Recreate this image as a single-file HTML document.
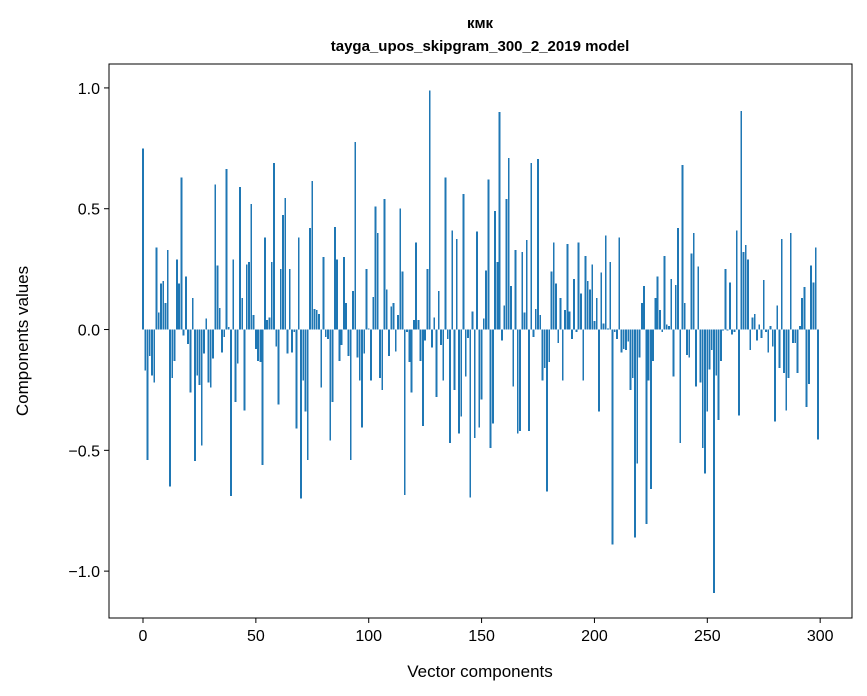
<!DOCTYPE html>
<html><head><meta charset="utf-8"><style>
html,body{margin:0;padding:0;background:#fff;}
svg{display:block;font-family:"Liberation Sans","DejaVu Sans",sans-serif;}
</style></head><body>
<svg id="chart" width="867" height="696" viewBox="0 0 867 696" xmlns="http://www.w3.org/2000/svg">
<rect x="0" y="0" width="867" height="696" fill="#fff"/>
<text x="480" y="28" text-anchor="middle" font-size="15" font-weight="bold">кмк</text>
<text x="480" y="51" text-anchor="middle" font-size="15" font-weight="bold">tayga_upos_skipgram_300_2_2019 model</text>
<g id="bars"></g>
<g id="axes"></g>
<text x="480" y="677" text-anchor="middle" font-size="17">Vector components</text>
<text x="28" y="341" text-anchor="middle" font-size="17" transform="rotate(-90 28 341)">Components values</text>
</svg>
<script>
const values = [0.75,-0.17,-0.54,-0.11,-0.19,-0.22,0.34,0.07,0.19,0.20,
0.11,0.33,-0.65,-0.20,-0.13,0.29,0.19,0.63,-0.025,0.22,
-0.06,-0.26,0.13,-0.545,-0.19,-0.23,-0.48,-0.10,0.045,-0.22,
-0.24,-0.12,0.60,0.265,0.09,-0.095,-0.03,0.665,0.01,-0.69,
0.29,-0.30,-0.14,0.59,0.13,-0.335,0.27,0.28,0.52,0.06,
-0.08,-0.13,-0.135,-0.56,0.38,0.04,0.05,0.28,0.69,-0.07,
-0.31,0.25,0.475,0.545,-0.10,0.25,-0.095,-0.01,-0.41,0.38,
-0.70,-0.21,-0.34,-0.54,0.42,0.615,0.085,0.08,0.065,-0.24,
0.30,-0.03,-0.04,-0.46,-0.30,0.425,0.29,-0.13,-0.065,0.30,
0.11,-0.11,-0.54,0.16,0.777,-0.115,-0.21,-0.405,-0.10,0.25,
0.005,-0.21,0.135,0.51,0.40,-0.20,-0.25,0.54,0.165,-0.11,
0.095,0.11,-0.09,0.06,0.50,0.24,-0.685,-0.01,-0.135,-0.26,
0.04,0.36,0.04,-0.13,-0.40,-0.045,0.25,0.99,-0.075,0.05,
-0.28,0.16,-0.065,-0.21,0.63,-0.04,-0.47,0.41,-0.25,0.375,
-0.43,-0.36,0.56,-0.195,-0.035,-0.695,0.075,-0.45,0.405,-0.405,
-0.29,0.045,0.245,0.62,-0.49,-0.39,0.49,0.28,0.90,-0.045,
0.10,0.54,0.71,0.18,-0.235,0.33,-0.43,-0.42,0.32,0.07,
0.37,-0.42,0.69,-0.03,0.085,0.705,0.06,-0.21,-0.16,-0.67,
-0.135,0.24,0.36,0.19,-0.055,0.13,-0.21,0.08,0.355,0.075,
-0.04,0.21,-0.01,0.36,0.15,-0.21,0.305,0.20,0.165,0.27,
0.035,0.13,-0.34,0.235,0.025,0.39,0.005,0.28,-0.89,-0.01,
-0.04,0.38,-0.095,-0.08,-0.085,-0.05,-0.25,-0.20,-0.86,-0.555,
-0.115,0.11,0.18,-0.805,-0.21,-0.66,-0.13,0.13,0.22,0.08,
-0.01,0.305,0.02,0.015,0.21,-0.195,0.185,0.42,-0.47,0.68,
0.11,-0.105,-0.115,0.315,0.40,-0.235,0.26,-0.22,-0.49,-0.595,
-0.34,-0.165,-0.085,-1.09,-0.19,-0.375,-0.13,-0.005,0.25,-0.005,
0.195,-0.02,-0.01,0.41,-0.355,0.905,0.32,0.35,0.29,-0.085,
0.05,0.065,-0.045,0.02,-0.035,0.205,-0.01,-0.095,0.015,-0.07,
-0.38,0.10,-0.16,0.375,-0.18,-0.335,-0.20,0.40,-0.055,-0.055,
-0.18,0.015,0.13,0.175,-0.32,-0.225,0.265,0.195,0.34,-0.455];
const xTicks = [0,50,100,150,200,250,300];
const yTicks = [-1.0,-0.5,0.0,0.5,1.0];
const yTickLabels = ["\u22121.0","\u22120.5","0.0","0.5","1.0"];

const L=109,R=852,T=64,B=618;
const xMin=-15.06,xMax=314.1,yMin=-1.194,yMax=1.099;
function xs(v){return L+(v-xMin)/(xMax-xMin)*(R-L);}
function ys(v){return T+(yMax-v)/(yMax-yMin)*(B-T);}
const NS="http://www.w3.org/2000/svg";
const bars=document.getElementById('bars');
values.forEach((v,i)=>{
  const r=document.createElementNS(NS,'rect');
  const x0=xs(i-0.4),x1=xs(i+0.4);
  const y0=ys(Math.max(v,0)),y1=ys(Math.min(v,0));
  r.setAttribute('x',x0);r.setAttribute('width',x1-x0);
  r.setAttribute('y',y0);r.setAttribute('height',Math.max(y1-y0,0.3));
  r.setAttribute('fill','#1f77b4');
  r.setAttribute('shape-rendering','crispEdges');
  
  
  bars.appendChild(r);
});
const ax=document.getElementById('axes');
const frame=document.createElementNS(NS,'rect');
frame.setAttribute('x',L);frame.setAttribute('y',T);frame.setAttribute('width',R-L);frame.setAttribute('height',B-T);
frame.setAttribute('fill','none');frame.setAttribute('stroke','#000');frame.setAttribute('stroke-width','1');


ax.appendChild(frame);
xTicks.forEach(t=>{
  const x=xs(t);
  const l=document.createElementNS(NS,'line');
  l.setAttribute('x1',x);l.setAttribute('x2',x);l.setAttribute('y1',B);l.setAttribute('y2',B+5);l.setAttribute('stroke','#000');
  
  
  ax.appendChild(l);
  const tx=document.createElementNS(NS,'text');
  tx.setAttribute('x',x);tx.setAttribute('y',B+23);tx.setAttribute('text-anchor','middle');tx.setAttribute('font-size','16');
  tx.textContent=t;
  
  
  ax.appendChild(tx);
});
yTicks.forEach((t,i)=>{
  const y=ys(t);
  const l=document.createElementNS(NS,'line');
  l.setAttribute('x1',L-5);l.setAttribute('x2',L);l.setAttribute('y1',y);l.setAttribute('y2',y);l.setAttribute('stroke','#000');
  
  
  ax.appendChild(l);
  const tx=document.createElementNS(NS,'text');
  tx.setAttribute('x',L-9);tx.setAttribute('y',y+6);tx.setAttribute('text-anchor','end');tx.setAttribute('font-size','16');
  tx.textContent=yTickLabels[i];
  
  
  ax.appendChild(tx);
});
</script>
</body></html>
